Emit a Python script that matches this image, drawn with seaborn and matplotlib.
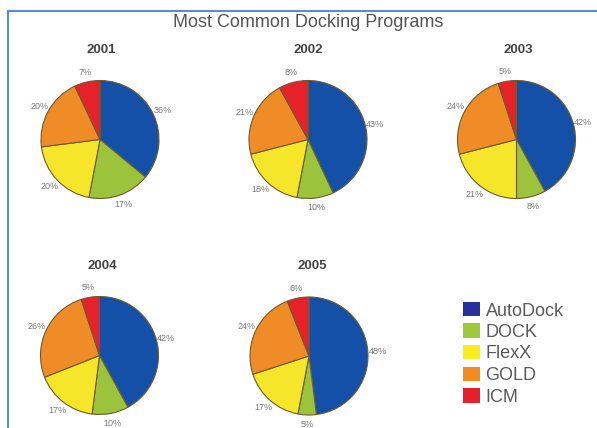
import matplotlib
matplotlib.use("Agg")
import matplotlib.pyplot as plt
from matplotlib.lines import Line2D
from matplotlib.patches import Rectangle
import seaborn as sns

# ---- data ----
programs = ["AutoDock", "DOCK", "FlexX", "GOLD", "ICM"]
years = ["2001", "2002", "2003", "2004", "2005"]
share_2001 = [36, 17, 20, 20, 7]
share_2002 = [43, 10, 18, 21, 8]
share_2003 = [42, 8, 21, 24, 5]
share_2004 = [42, 10, 17, 26, 5]
share_2005 = [48, 5, 17, 24, 6]
shares = [share_2001, share_2002, share_2003, share_2004, share_2005]

sns.set_theme(style="white")
plt.rcParams["font.family"] = ["Liberation Sans", "DejaVu Sans"]

pie_colors = sns.color_palette(["#1550a8", "#9cc33c", "#f5e629", "#ef8c26", "#e5212a"])
legend_colors = sns.color_palette(["#27319b", "#9dc83a", "#f7ec1c", "#f28b22", "#e81e2a"])

W, H = 597, 428
fig = plt.figure(figsize=(W / 100, H / 100), dpi=100)
fig.patch.set_facecolor("white")

def fx(x):
    return x / W

def fy(y):
    return 1 - y / H

# layout (pixel centres of pies, titles)
centers = [(100, 139.5), (308, 139.5), (516.5, 139.5), (99.5, 355.5), (309, 356)]
title_pos = [(101, 53), (308, 53), (518, 53), (102, 269), (312, 269)]
R = 59

for yr, vals, (cx, cy), (tx, ty) in zip(years, shares, centers, title_pos):
    ax = fig.add_axes([fx(cx - R), fy(cy + R), 2 * R / W, 2 * R / H])
    wedges, texts = ax.pie(vals, colors=pie_colors, startangle=90, counterclock=False,
                           labels=[f"{v}%" for v in vals], labeldistance=1.17,
                           wedgeprops=dict(edgecolor="#6e5b2e", linewidth=0.8),
                           textprops=dict(fontsize=6.5, color="#7a7a7a"))
    for t in texts:
        t.set_horizontalalignment("center")
    ax.set_xlim(-1, 1)
    ax.set_ylim(-1, 1)
    ax.set_aspect("equal")
    ax.axis("off")
    fig.text(fx(tx), fy(ty), yr, ha="center", va="baseline",
             fontsize=9.5, fontweight="bold", color="#444444")

fig.text(fx(308), fy(27), "Most Common Docking Programs", ha="center",
         va="baseline", fontsize=13, color="#555555")

# legend
row_y = [309, 330.5, 352, 374, 395.5]
for name, col, ry in zip(programs, legend_colors, row_y):
    fig.add_artist(Rectangle((fx(463.3), fy(ry + 7.2)), 16.7 / W, 14.4 / H,
                             transform=fig.transFigure, facecolor=col,
                             edgecolor="none"))
    fig.text(fx(485.5), fy(ry + 6.5), name, ha="left", va="baseline",
             fontsize=13, color="#5a5a5a")

# frame lines (top and left)
lc = "#5b8bd0"
fig.add_artist(Line2D([fx(8), 1], [fy(11), fy(11)], transform=fig.transFigure,
                      color=lc, linewidth=1.5))
fig.add_artist(Line2D([fx(8), fx(8)], [fy(11), 0], transform=fig.transFigure,
                      color=lc, linewidth=1.5))

fig.savefig("out.png", dpi=100, facecolor="white")
